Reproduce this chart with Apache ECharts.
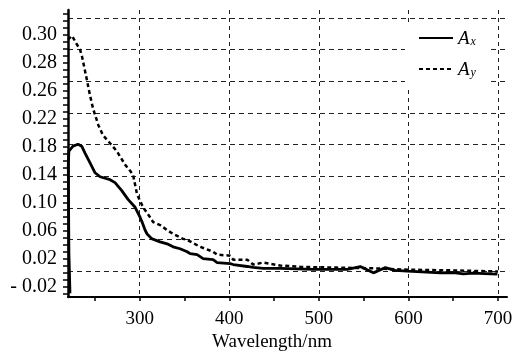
<!DOCTYPE html>
<html><head><meta charset="utf-8">
<script src="https://cdn.jsdelivr.net/npm/echarts@6/dist/echarts.min.js"></script>
<style>html,body{margin:0;padding:0;background:#fff}#c{width:519px;height:357px}</style>
</head><body><div id="c"></div>
<script>
// ---- data ----
const xTickValues = [300, 400, 500, 600, 700];
const yTickValues = [-0.02, 0.02, 0.06, 0.10, 0.14, 0.18, 0.22, 0.26, 0.30, 0.34];
const yTickLabels = ['- 0.02', '0.02', '0.06', '0.10', '0.14', '0.18', '0.22', '0.26', '0.28', '0.30'];
const seriesNames = ['Ax', 'Ay'];

const axWavelength = [222.2, 221.0, 220.3, 221.0, 225.6, 231.2, 235.3, 239.0, 244.6, 250.2, 255.8, 266.9, 272.5, 280.0, 287.0, 294.9, 300.4, 302.7, 306.0, 308.3, 311.6, 313.9, 322.8, 330.6, 337.3, 345.1, 353.0, 356.3, 364.1, 370.8, 382.0, 386.5, 401.0, 404.4, 420.0, 426.7, 437.9, 456.9, 493.7, 531.7, 546.3, 552.0, 560.8, 567.0, 574.2, 585.0, 598.8, 615.0, 635.6, 650.0, 661.3, 672.5, 685.0, 699.3];
const axValues     = [-0.0285, 0.030, 0.155, 0.1744, 0.1814, 0.1842, 0.1814, 0.1716, 0.1575, 0.1434, 0.1377, 0.1335, 0.1293, 0.118, 0.1054, 0.0941, 0.080, 0.073, 0.0617, 0.056, 0.0518, 0.049, 0.0448, 0.042, 0.0377, 0.0349, 0.0307, 0.0279, 0.0265, 0.0208, 0.0194, 0.0152, 0.0138, 0.0124, 0.0096, 0.0082, 0.0068, 0.0068, 0.0054, 0.0054, 0.0095, 0.006, 0.0005, 0.004, 0.0080, 0.004, 0.0030, 0.002, 0.0005, 0.001, -0.0010, 0.0000, -0.0005, -0.0012];

const ayWavelength = [220.0, 224.5, 230.0, 233.4, 235.6, 240.9, 244.6, 248.0, 253.9, 259.1, 266.9, 274.4, 283.7, 289.3, 292.6, 297.1, 303.8, 311.6, 315.0, 322.8, 330.6, 337.3, 348.5, 353.0, 367.5, 382.0, 386.5, 401.0, 404.4, 420.0, 426.7, 437.9, 456.9, 480.0, 520.0, 560.0, 600.0, 650.0, 700.0];
const ayValues     = [0.3335, 0.339, 0.3265, 0.3195, 0.3096, 0.2772, 0.2537, 0.2349, 0.2114, 0.1969, 0.1856, 0.1744, 0.155, 0.1462, 0.1406, 0.1124, 0.0941, 0.080, 0.073, 0.0687, 0.0617, 0.056, 0.049, 0.0476, 0.0377, 0.0307, 0.0265, 0.0251, 0.0194, 0.0194, 0.0124, 0.0152, 0.011, 0.009, 0.008, 0.007, 0.005, 0.004, 0.0025];

// ---- chart ----
const FONT = '"Liberation Serif", "DejaVu Serif", serif';
const pairs = (xs, ys) => xs.map((x, i) => [x, ys[i]]);
const yMin = -0.0341, yMax = 0.3758;
const yMinorTicks = [];
for (let i = 0; i <= 40; i++) yMinorTicks.push(+(-0.03 + i * 0.01).toFixed(3));
const xMinorTicks = [];
for (let v = 250; v <= 700; v += 50) xMinorTicks.push(v);
const gridLineVals = [];
for (let i = 0; i < 9; i++) gridLineVals.push(0.25 + i);

const chart = echarts.init(document.getElementById('c'), null, {renderer: 'canvas'});
const dashGrid = {show: true, lineStyle: {color: '#222', width: 1, type: [5, 4]}};
chart.setOption({
  animation: false,
  backgroundColor: '#fff',
  grid: {left: 68, top: 10, right: 12, bottom: 56, containLabel: false},
  legend: {
    orient: 'vertical', left: 405, top: 22,
    padding: [7, 12, 9, 13], itemGap: 12, itemWidth: 34, itemHeight: 14,
    backgroundColor: '#fff',
    data: seriesNames,
    itemStyle: {color: 'rgba(0,0,0,0)', borderColor: 'rgba(0,0,0,0)', borderWidth: 0, opacity: 0},
    formatter: n => '{a|A}{s|' + n.slice(1) + '}',
    textStyle: {
      rich: {
        a: {fontFamily: FONT, fontStyle: 'italic', fontSize: 19, color: '#000', verticalAlign: 'bottom', lineHeight: 20},
        s: {fontFamily: FONT, fontStyle: 'italic', fontSize: 12, color: '#000', verticalAlign: 'bottom', lineHeight: 14, padding: [6, 0, 0, 1]}
      }
    }
  },
  xAxis: [{
    type: 'value', min: 220, max: 710,
    axisLine: {show: true, onZero: false, lineStyle: {color: '#000', width: 2}},
    axisTick: {show: true, length: 4, customValues: xMinorTicks, lineStyle: {color: '#000', width: 1.5}},
    axisLabel: {customValues: xTickValues, fontFamily: FONT, fontSize: 19, color: '#000', margin: 12},
    splitLine: {show: false},
    name: 'Wavelength/nm', nameLocation: 'middle', nameGap: 35,
    nameTextStyle: {fontFamily: FONT, fontSize: 19, color: '#000', padding: [0, 31, 0, 0]}
  }, {
    type: 'value', min: 220, max: 710, position: 'top',
    axisLine: {show: false, onZero: false}, axisLabel: {show: false},
    axisTick: {show: false, customValues: xTickValues},
    splitLine: {show: true, lineStyle: {color: '#222', width: 1, type: [4, 4]}}
  }],
  yAxis: [{
    type: 'value', min: yMin, max: yMax,
    axisLine: {show: true, onZero: false, lineStyle: {color: '#000', width: 2.5}},
    axisTick: {show: true, length: 5, customValues: yMinorTicks, lineStyle: {color: '#000', width: 1.5}},
    axisLabel: {
      customValues: yTickValues, fontFamily: FONT, fontSize: 20, color: '#000', margin: 11,
      formatter: v => yTickLabels[Math.round((v - yTickValues[0]) / 0.04)]
    },
    splitLine: {show: false}
  }, {
    type: 'value', min: 0, max: 9.065, inverse: true, position: 'right',
    axisLine: {show: false, onZero: false}, axisLabel: {show: false},
    axisTick: {show: false, customValues: gridLineVals},
    splitLine: dashGrid
  }],
  series: [{
    name: seriesNames[0], type: 'line', xAxisIndex: 0, yAxisIndex: 0,
    data: pairs(axWavelength, axValues), showSymbol: false, symbol: 'none',
    lineStyle: {color: '#000', width: 2.8, type: 'solid'}, itemStyle: {color: '#000'}
  }, {
    name: seriesNames[1], type: 'line', xAxisIndex: 0, yAxisIndex: 0,
    data: pairs(ayWavelength, ayValues), showSymbol: false, symbol: 'none',
    lineStyle: {color: '#000', width: 2.5, type: [4, 3]}, itemStyle: {color: '#000'}
  }]
});
</script></body></html>
